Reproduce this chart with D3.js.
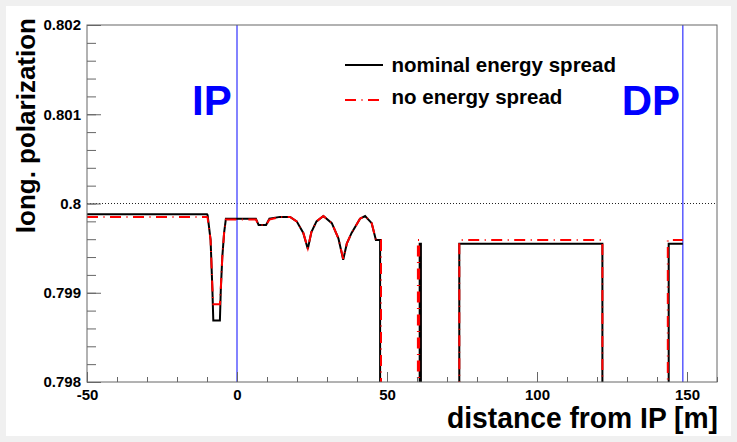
<!DOCTYPE html>
<html>
<head>
<meta charset="utf-8">
<script src="https://cdn.jsdelivr.net/npm/d3@7"></script>
<style>
  html, body { margin: 0; padding: 0; background: #f0f0f0; }
  svg { display: block; }
  text { font-family: "Liberation Sans", Arial, Helvetica, sans-serif; font-weight: bold; }
</style>
</head>
<body>
<svg id="chart" width="737" height="442"></svg>
<script>
// ---------------- data ----------------
const xTickValues = [-50, 0, 50, 100, 150];
const xTickLabels = ["-50", "0", "50", "100", "150"];
const yTickValues = [0.798, 0.799, 0.8, 0.801, 0.802];
const yTickLabels = ["0.798", "0.799", "0.8", "0.801", "0.802"];

const seriesNames = ["nominal energy spread", "no energy spread"];

// nominal energy spread (black, solid)
const xNominal = [-50, -10, -9.8, -8.8, -8.2, -7.9, -5.7, -5.4, -4.9, -4.3, -3.7, 0, 6.3, 7.2, 9.7, 10.8, 14.3, 17.7,
  19.9, 22.1, 23.6, 24.8, 26.5, 28.8, 31.6, 33.8, 35.4, 36.6, 38.2, 41, 42.7, 44.9, 46.3, 47.7, 47.7,
  60.9, 60.9, 61.3, 61.3, 74.1, 74.1, 121.8, 121.8, 143.9, 143.9, 148.6];
const yNominal = [0.79988, 0.79988, 0.79987, 0.79959, 0.79903, 0.79869, 0.79869, 0.79903, 0.79940, 0.79967, 0.79983, 0.79983, 0.79983, 0.79976, 0.79976, 0.79983, 0.79985, 0.79985,
  0.79980, 0.79967, 0.79949, 0.79968, 0.79980, 0.79986, 0.79978, 0.79961, 0.79937, 0.79955, 0.79967, 0.79983, 0.79986, 0.79978, 0.79959, 0.79959, 0.7970,
  0.7970, 0.79955, 0.79955, 0.7970, 0.7970, 0.79955, 0.79955, 0.7970, 0.7970, 0.79955, 0.79955];

// no energy spread (red, dash-dot)
const xNoSpread = [-50, -10, -9.8, -8.8, -8.2, -7.9, -5.7, -5.4, -4.9, -4.3, -3.7, 0, 6.3, 7.2, 9.7, 10.8, 14.3, 17.7,
  19.9, 22.1, 23.6, 24.8, 26.5, 28.8, 31.6, 33.8, 35.4, 36.6, 38.2, 41, 42.7, 44.9, 46.3, 48.0, 48.0,
  60.3, 60.3, 60.7, 60.7, 74.1, 74.1, 121.8, 121.8, 143.6, 143.6, 148.6];
const yNoSpread = [0.79985, 0.79985, 0.79984, 0.79959, 0.79905, 0.79887, 0.79887, 0.79905, 0.79940, 0.79967, 0.79982, 0.79982, 0.79982, 0.79976, 0.79976, 0.79982, 0.79985, 0.79985,
  0.79980, 0.79967, 0.79950, 0.79968, 0.79980, 0.79986, 0.79978, 0.79961, 0.79938, 0.79955, 0.79967, 0.79983, 0.79986, 0.79978, 0.79959, 0.79959, 0.7970,
  0.7970, 0.79959, 0.79959, 0.7970, 0.7970, 0.79959, 0.79959, 0.7970, 0.7970, 0.79959, 0.79959];

const referenceLevel = 0.8;
const markerPositions = [0, 148.6];
const markerLabels = ["IP", "DP"];

// ---------------- drawing ----------------
const svg = d3.select("#chart");
const W = 737, H = 442;
const frame = { left: 87, top: 25, right: 717, bottom: 382 };

svg.append("rect").attr("x", 0).attr("y", 0).attr("width", W).attr("height", H).attr("fill", "#f0f0f0");
svg.append("rect").attr("x", 6).attr("y", 6).attr("width", W - 12).attr("height", H - 12).attr("fill", "#ffffff");

const x = d3.scaleLinear().domain([-50, 160]).range([frame.left, frame.right]);
const y = d3.scaleLinear().domain([0.798, 0.802]).range([frame.bottom, frame.top]);

svg.append("defs").append("clipPath").attr("id", "plotclip")
  .append("rect").attr("x", frame.left).attr("y", frame.top)
  .attr("width", frame.right - frame.left).attr("height", frame.bottom - frame.top);

const plot = svg.append("g").attr("clip-path", "url(#plotclip)");

// reference dotted line
plot.append("line")
  .attr("x1", x(-50)).attr("x2", x(160))
  .attr("y1", y(referenceLevel)).attr("y2", y(referenceLevel))
  .attr("stroke", "#222").attr("stroke-width", 1).attr("stroke-dasharray", "1,2");

// markers
markerPositions.forEach(p => {
  plot.append("line")
    .attr("x1", x(p)).attr("x2", x(p))
    .attr("y1", frame.top).attr("y2", frame.bottom)
    .attr("stroke", "#5a5aff").attr("stroke-width", 1.5);
});

const line = d3.line().x(d => x(d[0])).y(d => y(d[1]));
const nominal = xNominal.map((v, i) => [v, yNominal[i]]);
const noSpread = xNoSpread.map((v, i) => [v, yNoSpread[i]]);

plot.append("path").datum(nominal).attr("d", line)
  .attr("fill", "none").attr("stroke", "#000").attr("stroke-width", 2).attr("stroke-linejoin", "miter");
plot.append("path").datum(noSpread).attr("d", line)
  .attr("fill", "none").attr("stroke", "#ff0000").attr("stroke-width", 2)
  .attr("stroke-dasharray", "11,5.5,1,5.5");

// frame
svg.append("rect").attr("x", frame.left).attr("y", frame.top)
  .attr("width", frame.right - frame.left).attr("height", frame.bottom - frame.top)
  .attr("fill", "none").attr("stroke", "#666").attr("stroke-width", 1);

// axes
const axisColor = "#666";
const xMinor = d3.range(-50, 161, 10);
const yMinor = d3.range(0, 21).map(i => 0.798 + i * 0.0002);

const gx = svg.append("g").attr("transform", `translate(0,${frame.bottom})`);
gx.call(d3.axisBottom(x).tickValues(xMinor).tickSize(-5).tickSizeOuter(0).tickFormat(""));
gx.call(g => g.selectAll(".domain").remove());
const gx2 = svg.append("g").attr("transform", `translate(0,${frame.bottom})`);
gx2.call(d3.axisBottom(x).tickValues(xTickValues).tickSize(-10).tickSizeOuter(0).tickPadding(7)
  .tickFormat((d, i) => xTickLabels[i]));
gx2.selectAll(".domain").remove();

const gy = svg.append("g").attr("transform", `translate(${frame.left},0)`);
gy.call(d3.axisLeft(y).tickValues(yMinor).tickSize(-9).tickSizeOuter(0).tickFormat(""));
gy.selectAll(".domain").remove();
const gy2 = svg.append("g").attr("transform", `translate(${frame.left},0)`);
gy2.call(d3.axisLeft(y).tickValues(yTickValues).tickSize(-14).tickSizeOuter(0).tickPadding(6)
  .tickFormat((d, i) => yTickLabels[i]));
gy2.selectAll(".domain").remove();

svg.selectAll(".tick line").attr("stroke", axisColor);
svg.selectAll(".tick text").attr("fill", "#000")
  .style("font-family", '"Liberation Sans", Arial, sans-serif')
  .style("font-weight", "bold").style("font-size", "15px");

// axis titles
svg.append("text")
  .attr("x", 718).attr("y", 428)
  .attr("text-anchor", "end")
  .attr("textLength", 271).attr("lengthAdjust", "spacingAndGlyphs")
  .style("font-size", "30px")
  .text("distance from IP [m]");

svg.append("text")
  .attr("transform", "translate(35,18) rotate(-90)")
  .attr("text-anchor", "end")
  .style("font-size", "26px")
  .text("long. polarization");

// marker labels
svg.append("text").attr("x", 192).attr("y", 115)
  .attr("fill", "#0000ff").style("font-size", "42px").text(markerLabels[0]);
svg.append("text").attr("x", 680).attr("y", 115).attr("text-anchor", "end")
  .attr("fill", "#0000ff").style("font-size", "42px").text(markerLabels[1]);

// legend
const legend = svg.append("g");
legend.append("line").attr("x1", 345).attr("x2", 383).attr("y1", 65).attr("y2", 65)
  .attr("stroke", "#000").attr("stroke-width", 2);
legend.append("text").attr("x", 391.5).attr("y", 72).style("font-size", "20.5px").text(seriesNames[0]);
legend.append("line").attr("x1", 345).attr("x2", 383).attr("y1", 100).attr("y2", 100)
  .attr("stroke", "#ff0000").attr("stroke-width", 2).attr("stroke-dasharray", "11,5.5,1,5.5");
legend.append("text").attr("x", 391.5).attr("y", 104).style("font-size", "20.5px").text(seriesNames[1]);
</script>
</body>
</html>
